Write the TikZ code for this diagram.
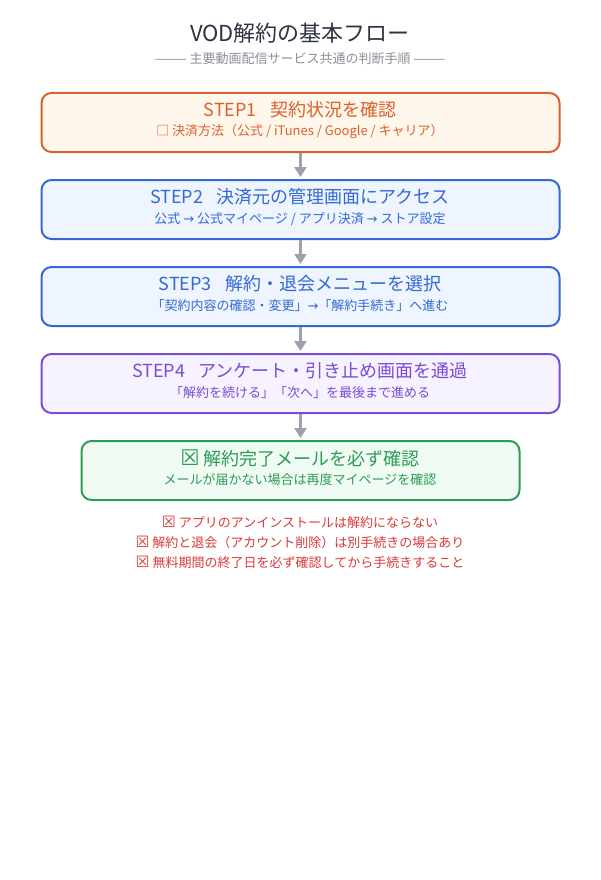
\documentclass[tikz,border=0pt]{standalone}
\usepackage{fontspec}
\setmainfont{Noto Sans CJK JP}
\newfontfamily\symfont{DejaVu Sans}
\usetikzlibrary{arrows.meta}
\definecolor{ttl}{HTML}{2D3340}
\definecolor{subttl}{HTML}{8A8F98}
\definecolor{orgB}{HTML}{D9622B}
\definecolor{orgF}{HTML}{FFF6EC}
\definecolor{bluB}{HTML}{3568D4}
\definecolor{bluF}{HTML}{EEF5FF}
\definecolor{purB}{HTML}{7B4BD6}
\definecolor{purF}{HTML}{F6F2FF}
\definecolor{grnB}{HTML}{2E9B57}
\definecolor{grnF}{HTML}{EFFBF3}
\definecolor{redT}{HTML}{D93A3A}
\definecolor{arr}{HTML}{9CA1AA}
\tikzset{
  stepbox/.style={draw, line width=2pt, rounded corners=10pt, minimum height=59pt, inner sep=0pt},
  headtxt/.style={inner sep=0pt, font=\fontsize{18}{22}\selectfont},
  subtxt/.style={inner sep=0pt, font=\fontsize{13}{16}\selectfont},
  flowarrow/.style={draw=arr, line width=3pt, -{Triangle[width=12pt,length=10pt]}, shorten >=2pt},
  notetxt/.style={inner sep=0pt, text=redT, font=\fontsize{13}{16}\selectfont}
}
\newcommand{\stgap}{\hspace{0.75em}}
\newcommand{\xbox}{{\symfont\scalebox{1.2}{☒}}}
\begin{document}
\begin{tikzpicture}[x=1pt,y=-1pt]
\useasboundingbox[fill=white] (0,0) rectangle (600,880);

\node[inner sep=0pt, text=ttl, font=\fontsize{22}{26}\selectfont] (title) at (300,33) {VOD解約の基本フロー};
\node[inner sep=0pt, text=subttl, font=\fontsize{13}{16}\selectfont] (subtitle) at (300,59) {——— 主要動画配信サービス共通の判断手順 ———};

% boxes
\node[stepbox, draw=orgB, fill=orgF, minimum width=518pt] (s1) at (300.5,122.5) {};
\node[stepbox, draw=bluB, fill=bluF, minimum width=518pt] (s2) at (300.5,209.5) {};
\node[stepbox, draw=bluB, fill=bluF, minimum width=518pt] (s3) at (300.5,296.5) {};
\node[stepbox, draw=purB, fill=purF, minimum width=518pt] (s4) at (300.5,383.5) {};
\node[stepbox, draw=grnB, fill=grnF, minimum width=438pt] (s5) at (300.5,470.5) {};

% texts
\node[headtxt, text=orgB] (s1h) at (300,110) {STEP1\stgap 契約状況を確認};
\node[subtxt, text=orgB] (s1s) at (300,132) {□ 決済方法（公式 / iTunes / Google / キャリア）};
\node[headtxt, text=bluB] (s2h) at (300,197) {STEP2\stgap 決済元の管理画面にアクセス};
\node[subtxt, text=bluB] (s2s) at (300,219) {公式 {\symfont →} 公式マイページ / アプリ決済 {\symfont →} ストア設定};
\node[headtxt, text=bluB] (s3h) at (300,284) {STEP3\stgap 解約・退会メニューを選択};
\node[subtxt, text=bluB] (s3s) at (300,306) {「契約内容の確認・変更」{\symfont →}「解約手続き」へ進む};
\node[headtxt, text=purB] (s4h) at (300,371) {STEP4\stgap アンケート・引き止め画面を通過};
\node[subtxt, text=purB] (s4s) at (300,393) {「解約を続ける」「次へ」を最後まで進める};
\node[headtxt, text=grnB] (s5h) at (300,458) {\xbox\ 解約完了メールを必ず確認};
\node[subtxt, text=grnB] (s5s) at (300,480) {メールが届かない場合は再度マイページを確認};

% arrows
\draw[flowarrow] (s1.south) -- (s2.north);
\draw[flowarrow] (s2.south) -- (s3.north);
\draw[flowarrow] (s3.south) -- (s4.north);
\draw[flowarrow] (s4.south) -- (s5.north);

% notes
\node[notetxt] (n1) at (300,522) {\xbox\ アプリのアンインストールは解約にならない};
\node[notetxt] (n2) at (300,542) {\xbox\ 解約と退会（アカウント削除）は別手続きの場合あり};
\node[notetxt] (n3) at (300,562) {\xbox\ 無料期間の終了日を必ず確認してから手続きすること};
\end{tikzpicture}
\end{document}
